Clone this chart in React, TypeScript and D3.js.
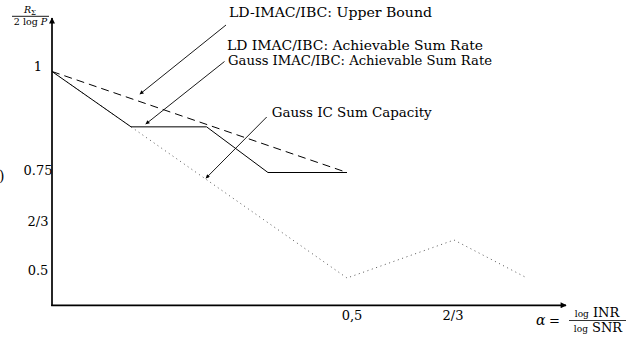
import React from "react";
import * as d3 from "d3";

// ---- data (alpha, normalized sum rate) ----
const alphaKnots = [0, 0.5, 2 / 3, 1];
const rateKnots = [0.5, 2 / 3, 0.75, 1];

const upperBound: [number, number][] = [
  [0, 1],
  [0.5, 0.75],
];
const achievable: [number, number][] = [
  [0, 1],
  [0.134, 0.863],
  [0.262, 0.863],
  [0.366, 0.75],
  [0.5, 0.75],
];
const gaussIC: [number, number][] = [
  [0, 1],
  [0.5, 0.5],
  [2 / 3, 2 / 3],
  [1, 0.5],
];

const yTickLabels = ["1", "0.75", "2/3", "0.5"];
const yTickValues = [1, 0.75, 2 / 3, 0.5];
const xTickLabels = ["0,5", "2/3"];
const xTickValues = [0.5, 2 / 3];

// annotation arrow tips in data coordinates
const annotationTips: [number, number][] = [
  [0.149, 0.944],
  [0.159, 0.87],
  [0.261, 0.743],
];
const annotationLabels = [
  "LD-IMAC/IBC: Upper Bound",
  "LD IMAC/IBC: Achievable Sum Rate",
  "Gauss IMAC/IBC: Achievable Sum Rate",
  "Gauss IC Sum Capacity",
];

const W = 629;
const H = 339;
const FONT = "'DejaVu Serif', serif";

export default function App() {
  const x = d3.scaleLinear().domain(alphaKnots).range([52, 347, 454, 527]);
  const y = d3.scaleLinear().domain(rateKnots).range([278, 240, 172.5, 71.5]);
  // label placement scale for y tick texts (schematic figure)
  const yLab = d3.scaleLinear().domain(rateKnots).range([270, 221, 170, 66.5]);

  const line = d3
    .line<[number, number]>()
    .x((d) => x(d[0]))
    .y((d) => y(d[1]));

  const x0 = x(0);
  const yBase = 305.3;

  const tails: [number, number][] = [
    [226, 25],
    [224.5, 61.5],
    [266.7, 117],
  ];

  const labelPos = [
    { x: 229, y: 17.3, w: 203 },
    { x: 227, y: 50, w: 256 },
    { x: 228, y: 64.5, w: 264 },
    { x: 271.7, y: 116.7, w: 160 },
  ];

  return (
    <svg
      width={W}
      height={H}
      style={{ position: "absolute", left: 0, top: 0, background: "#fff" }}
      fontFamily={FONT}
    >
      <defs>
        <marker
          id="axArrow"
          viewBox="0 0 10 10"
          refX="9"
          refY="5"
          markerUnits="userSpaceOnUse"
          markerWidth="9"
          markerHeight="6"
          orient="auto"
        >
          <path d="M0,0 L10,5 L0,10 Z" fill="#000" />
        </marker>
        <marker
          id="annArrow"
          viewBox="0 0 10 10"
          refX="9"
          refY="5"
          markerUnits="userSpaceOnUse"
          markerWidth="6"
          markerHeight="4"
          orient="auto"
        >
          <path d="M0,0 L10,5 L0,10 Z" fill="#000" />
        </marker>
      </defs>

      {/* axes */}
      <line
        x1={x0}
        y1={yBase + 0.8}
        x2={x0}
        y2={18}
        stroke="#000"
        strokeWidth={1.7}
        markerEnd="url(#axArrow)"
      />
      <line
        x1={x0 - 0.8}
        y1={yBase}
        x2={566}
        y2={yBase}
        stroke="#000"
        strokeWidth={1.7}
        markerEnd="url(#axArrow)"
      />

      {/* curves */}
      <path
        d={line(gaussIC) || ""}
        fill="none"
        stroke="#555"
        strokeWidth={1}
        strokeDasharray="1 3.6"
      />
      <path
        d={line(upperBound) || ""}
        fill="none"
        stroke="#000"
        strokeWidth={1}
        strokeDasharray="8 5"
      />
      <path d={line(achievable) || ""} fill="none" stroke="#000" strokeWidth={1} />

      {/* y tick labels */}
      {yTickValues.map((v, i) => (
        <text
          key={i}
          x={38}
          y={yLab(v)}
          fontSize={13}
          textAnchor="middle"
          dominantBaseline="central"
        >
          {yTickLabels[i]}
        </text>
      ))}

      {/* x tick labels */}
      {xTickValues.map((v, i) => (
        <text key={i} x={x(v) + (i === 0 ? 5 : -1)} y={320} fontSize={13} textAnchor="middle">
          {xTickLabels[i]}
        </text>
      ))}

      {/* y axis label: R_Σ / (2 log P) */}
      <text x={30} y={13} fontSize={9.5} textAnchor="middle" fontStyle="italic">
        R<tspan fontSize={7} dy={2} fontStyle="normal">Σ</tspan>
      </text>
      <line x1={12} y1={16.3} x2={49} y2={16.3} stroke="#000" strokeWidth={0.9} />
      <text x={30.5} y={25} fontSize={9.5} textAnchor="middle">
        2 log <tspan fontStyle="italic">P</tspan>
      </text>

      {/* x axis label: α = log INR / log SNR */}
      <text x={536} y={324.5} fontSize={14} fontStyle="italic">
        α
      </text>
      <text x={549} y={324.5} fontSize={13}>
        =
      </text>
      <text x={597} y={317} fontSize={13} textAnchor="middle">
        <tspan fontSize={9}>log</tspan> INR
      </text>
      <line x1={569} y1={320.5} x2={626} y2={320.5} stroke="#000" strokeWidth={0.8} />
      <text x={598} y={332} fontSize={13} textAnchor="middle">
        <tspan fontSize={9}>log</tspan> SNR
      </text>

      {/* stray cropped parenthesis */}
      <text x={-1} y={181} fontSize={14}>
        )
      </text>

      {/* annotations */}
      {annotationTips.map((t, i) => (
        <line
          key={i}
          x1={tails[i][0]}
          y1={tails[i][1]}
          x2={x(t[0])}
          y2={y(t[1])}
          stroke="#000"
          strokeWidth={0.9}
          markerEnd="url(#annArrow)"
        />
      ))}
      {annotationLabels.map((s, i) => (
        <text
          key={i}
          x={labelPos[i].x}
          y={labelPos[i].y}
          fontSize={13.5}
          textLength={labelPos[i].w}
          lengthAdjust="spacingAndGlyphs"
        >
          {s}
        </text>
      ))}
    </svg>
  );
}
